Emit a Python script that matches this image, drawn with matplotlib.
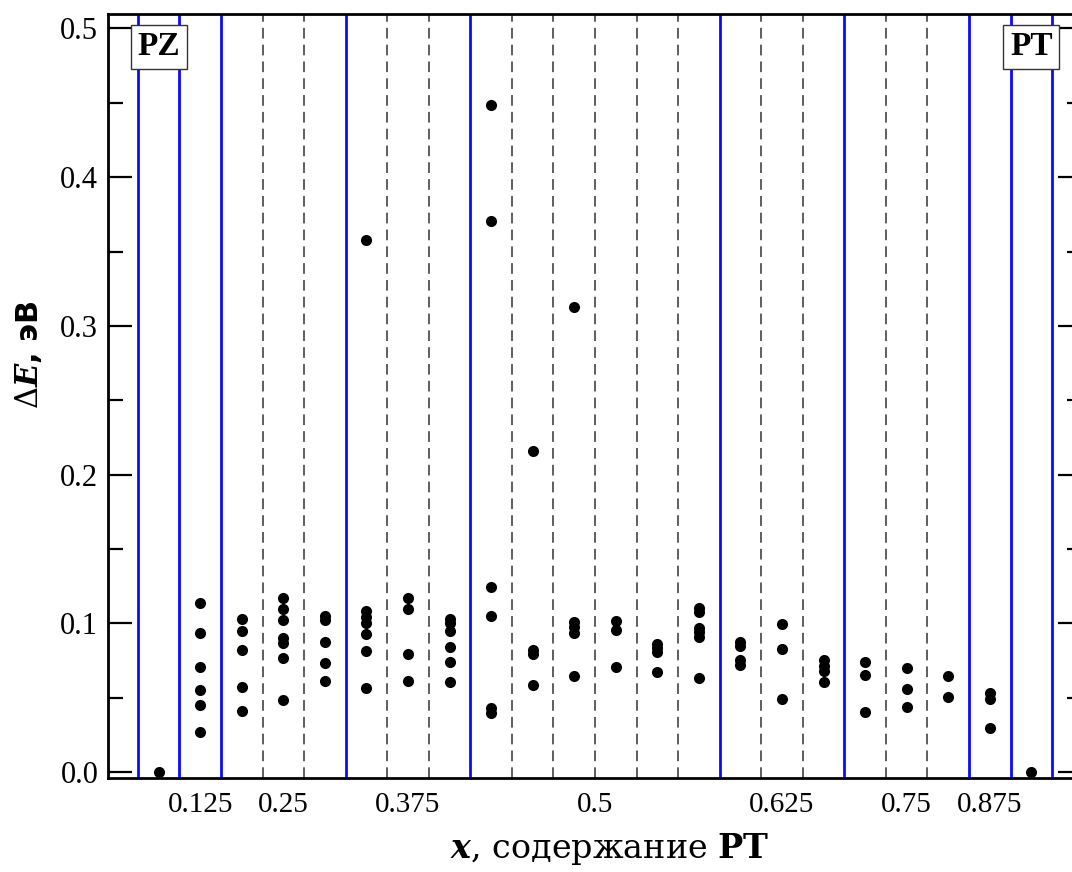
import matplotlib
matplotlib.use("Agg")
import matplotlib.pyplot as plt
import numpy as np

# ---------------- data ----------------
group_labels = ["PZ", "0.125", "0.25", "0.375", "0.5", "0.625", "0.75", "0.875", "PT"]
group_sizes = [1, 1, 3, 3, 6, 3, 3, 1, 1]

cell_energies = [
    [0.0],
    [0.1136, 0.0934, 0.0705, 0.0552, 0.0451, 0.0269],
    [0.1027, 0.0948, 0.0820, 0.0574, 0.0410],
    [0.1168, 0.1096, 0.1022, 0.0903, 0.0866, 0.0765, 0.0484],
    [0.1049, 0.1022, 0.0872, 0.0731, 0.0614],
    [0.3578, 0.1083, 0.1045, 0.1000, 0.0926, 0.0814, 0.0567],
    [0.1172, 0.1096, 0.0792, 0.0612],
    [0.1029, 0.1000, 0.0948, 0.0843, 0.0742, 0.0607],
    [0.4486, 0.3705, 0.1246, 0.1051, 0.0432, 0.0395],
    [0.2159, 0.0820, 0.0795, 0.0585],
    [0.3127, 0.1011, 0.0973, 0.0937, 0.0646],
    [0.1018, 0.0955, 0.0708],
    [0.0859, 0.0832, 0.0805, 0.0671],
    [0.1101, 0.1074, 0.0966, 0.0939, 0.0910, 0.0630],
    [0.0876, 0.0849, 0.0753, 0.0720],
    [0.0995, 0.0825, 0.0489],
    [0.0753, 0.0715, 0.0679, 0.0603],
    [0.0742, 0.0652, 0.0406],
    [0.0697, 0.0558, 0.0439],
    [0.0646, 0.0502],
    [0.0529, 0.0489, 0.0294],
    [0.0],
]

y_ticks = [0.0, 0.1, 0.2, 0.3, 0.4, 0.5]
y_tick_labels = ["0.0", "0.1", "0.2", "0.3", "0.4", "0.5"]

# ---------------- figure ----------------
plt.rcParams['font.family'] = ['Liberation Serif', 'DejaVu Serif']
plt.rcParams['mathtext.fontset'] = 'dejavuserif'

W, H = 1072, 872
fig = plt.figure(figsize=(W / 100, H / 100), dpi=100)
left_px, right_px, top_px, bot_px = 108, 1082, 14, 778
ax = fig.add_axes([left_px / W, 1 - bot_px / H, (right_px - left_px) / W, (bot_px - top_px) / H])

n_cells = sum(group_sizes)
bounds = np.concatenate([[0], np.cumsum(group_sizes)])
all_lines = np.arange(n_cells + 1)
dashed = [v for v in all_lines if v not in set(bounds)]

for v in dashed:
    ax.axvline(v, color='#333333', lw=1.1, ls=(0, (7, 4)), zorder=1)
for v in bounds:
    ax.axvline(v, color='#0a0aff', lw=2.0, zorder=1)

for i, vals in enumerate(cell_energies):
    ax.plot(np.full(len(vals), i + 0.5), vals, 'o', color='black',
            markersize=8, markeredgewidth=0, zorder=3, clip_on=False)

ax.set_xlim(-0.72, n_cells + 0.72)
ax.set_ylim(-0.004, 0.5097)

centers = (bounds[:-1] + bounds[1:]) / 2
ax.set_xticks(centers[1:-1])
ax.set_xticklabels(group_labels[1:-1], fontsize=21)
ax.tick_params(axis='x', length=0, pad=10)

ax.set_yticks(y_ticks)
ax.set_yticklabels(y_tick_labels, fontsize=22)
ax.set_yticks(np.arange(0.05, 0.5, 0.1), minor=True)
ax.tick_params(axis='y', which='major', direction='in', length=17, width=1.6,
               left=True, right=True, pad=7)
ax.tick_params(axis='y', which='minor', direction='in', length=11, width=1.6,
               left=True, right=True)

for s in ax.spines.values():
    s.set_linewidth(2.0)

# group name boxes
box = dict(boxstyle='square,pad=0.2', facecolor='white', edgecolor='#333333', lw=1.0)
ax.text(centers[0], 0.4876, group_labels[0], ha='center', va='center', fontsize=24,
        fontweight='bold', bbox=box, zorder=5)
ax.text(centers[-1], 0.4876, group_labels[-1], ha='center', va='center', fontsize=24,
        fontweight='bold', bbox=box, zorder=5)

# axis labels
fig.text(610 / W, 14 / H, r"$\mathbfit{x}$, содержание $\mathbf{PT}$",
         ha='center', va='baseline', fontsize=24, family='DejaVu Serif')
fig.text(28 / W, 1 - 355 / H, r"$\Delta\mathbfit{E}$, эВ", rotation=90,
         ha='center', va='center', fontsize=22, family='DejaVu Sans', fontweight='bold')

fig.savefig("out.png", dpi=100)
